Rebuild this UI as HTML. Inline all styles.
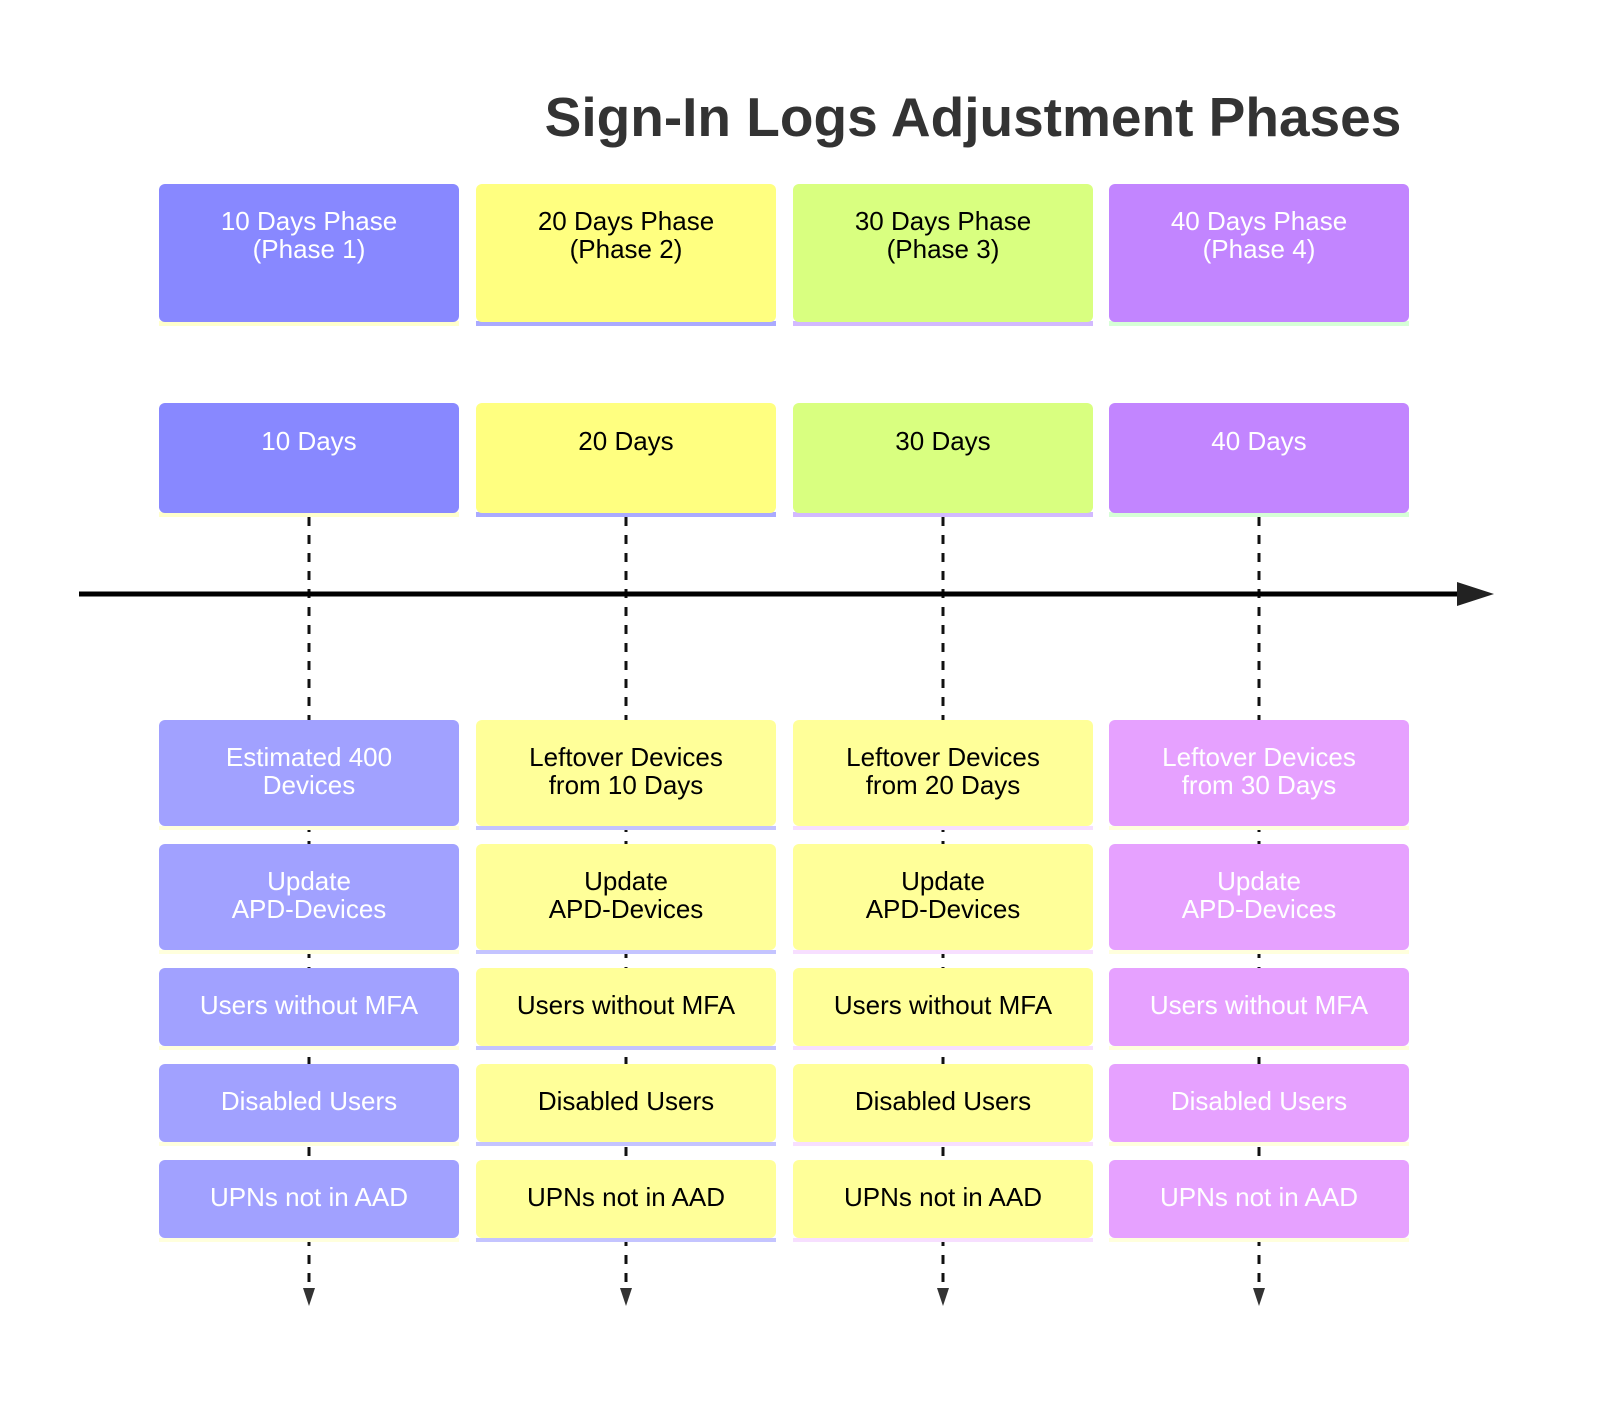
<!DOCTYPE html>
<html><head><meta charset="utf-8"><style>
html,body{margin:0;padding:0;background:#fff}
svg{display:block}
text{font-family:"Liberation Sans",sans-serif;font-size:26px;text-anchor:middle}
</style></head><body>
<svg width="1600" height="1410" viewBox="0 0 1600 1410" xmlns="http://www.w3.org/2000/svg">
<rect width="1600" height="1410" fill="#fff"/>
<text x="973" y="136" style="font-size:55px;font-weight:bold;fill:#333">Sign-In Logs Adjustment Phases</text>

<g stroke="#111" stroke-width="3" stroke-dasharray="9,9">
<line x1="309" y1="517" x2="309" y2="1292"/>
<line x1="626" y1="517" x2="626" y2="1292"/>
<line x1="943" y1="517" x2="943" y2="1292"/>
<line x1="1259" y1="517" x2="1259" y2="1292"/>
</g>
<g fill="#333">
<polygon points="303,1288 315,1288 309,1306"/>
<polygon points="620,1288 632,1288 626,1306"/>
<polygon points="937,1288 949,1288 943,1306"/>
<polygon points="1253,1288 1265,1288 1259,1306"/>
</g>
<line x1="79" y1="594" x2="1462" y2="594" stroke="#000" stroke-width="5"/>
<polygon points="1457,582 1494,594 1457,606" fill="#222"/>

<g>
<rect x="159" y="321" width="300" height="5" fill="#ffffcc"/>
<rect x="159" y="184" width="300" height="138" rx="6" fill="#8888ff"/>
<rect x="159" y="512" width="300" height="5" fill="#ffffcc"/>
<rect x="159" y="403" width="300" height="110" rx="6" fill="#8888ff"/>
<g fill="#a1a1ff">
<rect x="159" y="720" width="300" height="106" rx="6"/>
<rect x="159" y="844" width="300" height="106" rx="6"/>
<rect x="159" y="968" width="300" height="78" rx="6"/>
<rect x="159" y="1064" width="300" height="78" rx="6"/>
<rect x="159" y="1160" width="300" height="78" rx="6"/>
</g>
<g fill="#ffffdd">
<rect x="159" y="826" width="300" height="4"/><rect x="159" y="950" width="300" height="4"/>
<rect x="159" y="1046" width="300" height="4"/><rect x="159" y="1142" width="300" height="4"/><rect x="159" y="1238" width="300" height="4"/>
</g>
<g fill="#fff">
<text x="309" y="230">10 Days Phase</text><text x="309" y="258">(Phase 1)</text>
<text x="309" y="450">10 Days</text>
<text x="309" y="766">Estimated 400</text><text x="309" y="794">Devices</text>
<text x="309" y="890">Update</text><text x="309" y="918">APD-Devices</text>
<text x="309" y="1014">Users without MFA</text>
<text x="309" y="1110">Disabled Users</text>
<text x="309" y="1206">UPNs not in AAD</text>
</g>
</g>

<g>
<rect x="476" y="321" width="300" height="5" fill="#aaaaff"/>
<rect x="476" y="184" width="300" height="138" rx="6" fill="#ffff80"/>
<rect x="476" y="512" width="300" height="5" fill="#aaaaff"/>
<rect x="476" y="403" width="300" height="110" rx="6" fill="#ffff80"/>
<g fill="#ffff99">
<rect x="476" y="720" width="300" height="106" rx="6"/>
<rect x="476" y="844" width="300" height="106" rx="6"/>
<rect x="476" y="968" width="300" height="78" rx="6"/>
<rect x="476" y="1064" width="300" height="78" rx="6"/>
<rect x="476" y="1160" width="300" height="78" rx="6"/>
</g>
<g fill="#c4c4ff">
<rect x="476" y="826" width="300" height="4"/><rect x="476" y="950" width="300" height="4"/>
<rect x="476" y="1046" width="300" height="4"/><rect x="476" y="1142" width="300" height="4"/><rect x="476" y="1238" width="300" height="4"/>
</g>
<g fill="#000">
<text x="626" y="230">20 Days Phase</text><text x="626" y="258">(Phase 2)</text>
<text x="626" y="450">20 Days</text>
<text x="626" y="766">Leftover Devices</text><text x="626" y="794">from 10 Days</text>
<text x="626" y="890">Update</text><text x="626" y="918">APD-Devices</text>
<text x="626" y="1014">Users without MFA</text>
<text x="626" y="1110">Disabled Users</text>
<text x="626" y="1206">UPNs not in AAD</text>
</g>
</g>

<g>
<rect x="793" y="321" width="300" height="5" fill="#d2b9ff"/>
<rect x="793" y="184" width="300" height="138" rx="6" fill="#d9ff80"/>
<rect x="793" y="512" width="300" height="5" fill="#d2b9ff"/>
<rect x="793" y="403" width="300" height="110" rx="6" fill="#d9ff80"/>
<g fill="#ffff99">
<rect x="793" y="720" width="300" height="106" rx="6"/>
<rect x="793" y="844" width="300" height="106" rx="6"/>
<rect x="793" y="968" width="300" height="78" rx="6"/>
<rect x="793" y="1064" width="300" height="78" rx="6"/>
<rect x="793" y="1160" width="300" height="78" rx="6"/>
</g>
<g fill="#f7dfff">
<rect x="793" y="826" width="300" height="4"/><rect x="793" y="950" width="300" height="4"/>
<rect x="793" y="1046" width="300" height="4"/><rect x="793" y="1142" width="300" height="4"/><rect x="793" y="1238" width="300" height="4"/>
</g>
<g fill="#000">
<text x="943" y="230">30 Days Phase</text><text x="943" y="258">(Phase 3)</text>
<text x="943" y="450">30 Days</text>
<text x="943" y="766">Leftover Devices</text><text x="943" y="794">from 20 Days</text>
<text x="943" y="890">Update</text><text x="943" y="918">APD-Devices</text>
<text x="943" y="1014">Users without MFA</text>
<text x="943" y="1110">Disabled Users</text>
<text x="943" y="1206">UPNs not in AAD</text>
</g>
</g>

<g>
<rect x="1109" y="321" width="300" height="5" fill="#d6ffd6"/>
<rect x="1109" y="184" width="300" height="138" rx="6" fill="#c285ff"/>
<rect x="1109" y="512" width="300" height="5" fill="#d6ffd6"/>
<rect x="1109" y="403" width="300" height="110" rx="6" fill="#c285ff"/>
<g fill="#e6a1ff">
<rect x="1109" y="720" width="300" height="106" rx="6"/>
<rect x="1109" y="844" width="300" height="106" rx="6"/>
<rect x="1109" y="968" width="300" height="78" rx="6"/>
<rect x="1109" y="1064" width="300" height="78" rx="6"/>
<rect x="1109" y="1160" width="300" height="78" rx="6"/>
</g>
<g fill="#ffffdd">
<rect x="1109" y="826" width="300" height="4"/><rect x="1109" y="950" width="300" height="4"/>
<rect x="1109" y="1046" width="300" height="4"/><rect x="1109" y="1142" width="300" height="4"/><rect x="1109" y="1238" width="300" height="4"/>
</g>
<g fill="#fff">
<text x="1259" y="230">40 Days Phase</text><text x="1259" y="258">(Phase 4)</text>
<text x="1259" y="450">40 Days</text>
<text x="1259" y="766">Leftover Devices</text><text x="1259" y="794">from 30 Days</text>
<text x="1259" y="890">Update</text><text x="1259" y="918">APD-Devices</text>
<text x="1259" y="1014">Users without MFA</text>
<text x="1259" y="1110">Disabled Users</text>
<text x="1259" y="1206">UPNs not in AAD</text>
</g>
</g>
</svg>
</body></html>
